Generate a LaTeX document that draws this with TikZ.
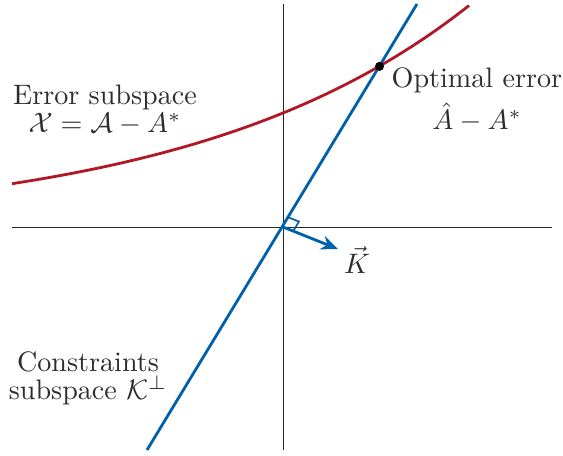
\documentclass[tikz,border=0pt]{standalone}
\usepackage{amsmath}
\usepackage{tikz}
\usetikzlibrary{arrows.meta, calc}
\definecolor{subblue}{RGB}{0,96,170}
\definecolor{subred}{RGB}{176,24,38}
\definecolor{txtgray}{RGB}{45,45,45}

\begin{document}
\begin{tikzpicture}[
  x=0.0125cm, y=0.0125cm,
  axis/.style={draw=black!85, line width=0.3pt},
  subspace/.style={line width=1pt},
  label/.style={align=center, text=txtgray, font=\normalsize, inner sep=0pt},
  >={Stealth[length=6pt, width=5pt]}
]
  \useasboundingbox (-283,-228) rectangle (280,227);

  % axes
  \coordinate (o) at (0,0);
  \coordinate (ytop) at (0,223);
  \coordinate (ybot) at (0,-223);
  \coordinate (xleft) at (-271,0);
  \coordinate (xright) at (269,0);
  \draw[axis] (ybot) -- (ytop);
  \draw[axis] (xleft) -- (xright);

  % subspaces
  \coordinate (kbot) at (-136,-223);
  \coordinate (ktop) at (134,223);
  \draw[subspace, subblue] (kbot) -- (ktop);
  \draw[subspace, subred, domain=-271:186, samples=60]
    plot (\x, {114*exp(0.00357*\x)});

  % gradient and right angle
  \coordinate (kvec) at (55,-22);
  \draw[subspace, subblue, ->] (o) -- (kvec);
  \draw[subblue, line width=0.6pt] ($(o)+(5.7,9.5)$) -- ($(o)+(16,5.5)$) -- ($(o)+(10.2,-4.1)$);

  % optimum
  \node[circle, fill=black, inner sep=0pt, minimum size=3.2pt] (opt) at (96.5,160.6) {};

  \node[label] (errlbl) at (-178,117) {Error subspace\\[-2pt] $\mathcal{X}=\mathcal{A}-A^{*}$};
  \node[label] (optlbl) at (194,127) {Optimal error\\[3pt] $\hat{A}-A^{*}$};
  \node[label] (conlbl) at (-195,-151) {Constraints\\[-2pt] subspace $\mathcal{K}^{\perp}$};
  \node[label] (klbl) at (74,-33) {$\vec{K}$};
\end{tikzpicture}
\end{document}
